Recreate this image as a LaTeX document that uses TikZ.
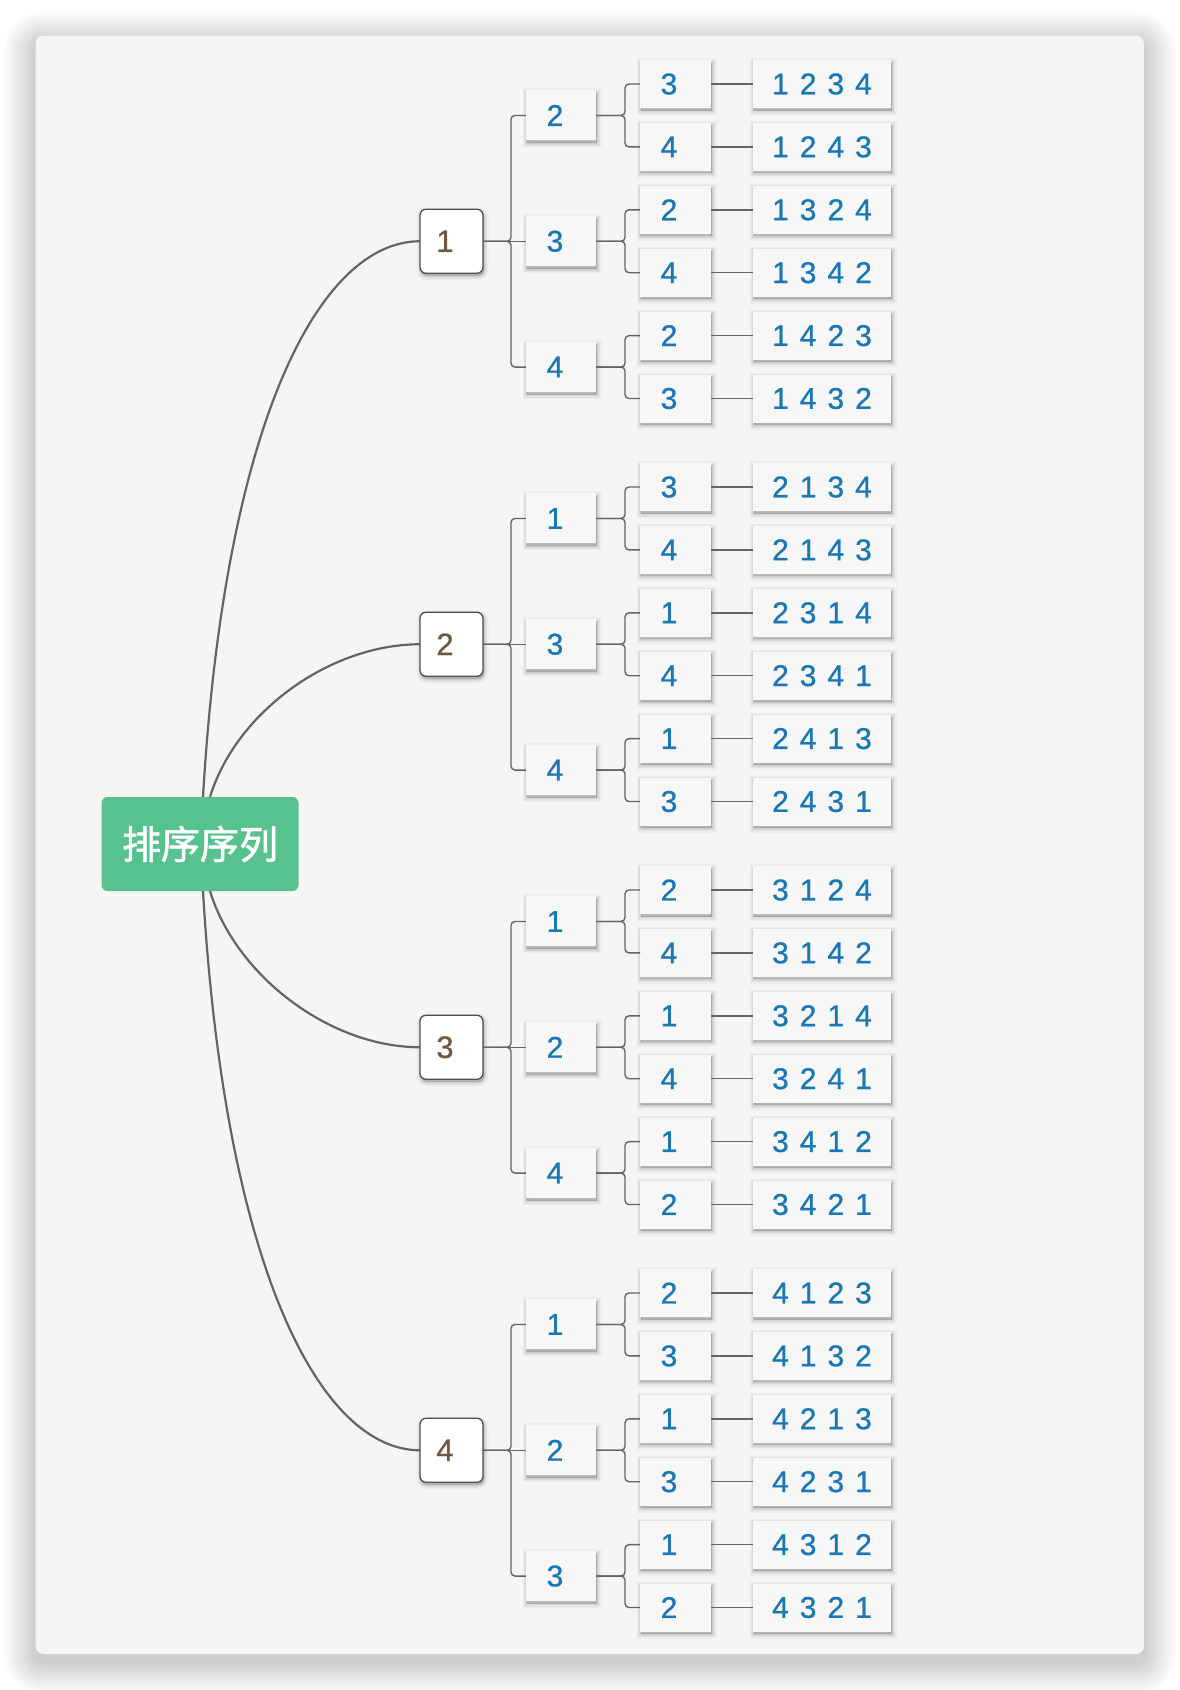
\documentclass[tikz,border=0pt]{standalone}
\usepackage{fontspec}
\setmainfont{Liberation Sans}
\newfontfamily\digitfont[FakeBold=0.8]{Liberation Sans}
\newfontfamily\cjkfont[FakeBold=1.5]{Noto Sans CJK SC}
\usetikzlibrary{shadows}
\definecolor{panelbg}{HTML}{F5F5F5}
\definecolor{boxbg}{HTML}{F7F7F7}
\definecolor{digitblue}{HTML}{1A77B5}
\definecolor{digitbrown}{HTML}{6E5840}
\definecolor{rootgreen}{HTML}{57C28D}
\definecolor{linegray}{HTML}{646464}
\definecolor{bordergray}{HTML}{4F4F4F}
\begin{document}
\begin{tikzpicture}[x=1pt,y=-1pt,
  softshadow/.style={
    general shadow={draw=black, fill=black, draw opacity=0.05, fill opacity=0.05, line width=1.5pt, shadow xshift=1pt, shadow yshift=-2.5pt},
    general shadow={draw=black, fill=black, draw opacity=0.05, fill opacity=0.05, line width=3.5pt, shadow xshift=1pt, shadow yshift=-2.5pt},
    general shadow={draw=black, fill=black, draw opacity=0.04, fill opacity=0.04, line width=6pt, shadow xshift=1pt, shadow yshift=-2.5pt},
    general shadow={draw=black, fill=black, draw opacity=0.03, fill opacity=0.03, line width=9pt, shadow xshift=1pt, shadow yshift=-2.5pt}},
  box/.style={softshadow, fill=boxbg, minimum height=48pt, inner sep=0pt, outer sep=0pt,
    text=digitblue, font=\digitfont\fontsize{30}{30}\selectfont},
  lvtwo/.style={box, minimum width=70pt, minimum height=50pt},
  lvthree/.style={box, minimum width=71pt},
  leaf/.style={box, minimum width=138pt},
  lvone/.style={softshadow, fill=white, draw=bordergray, line width=1.3pt, rounded corners=6pt,
    minimum width=63pt, minimum height=64pt, inner sep=0pt, outer sep=0pt,
    text=digitbrown, font=\digitfont\fontsize{31}{31}\selectfont},
  rootbox/.style={fill=rootgreen, rounded corners=6pt, minimum width=197pt,
    minimum height=94pt, inner sep=0pt, outer sep=0pt, text=white,
    font=\cjkfont\fontsize{39}{39}\selectfont},
  link/.style={draw=linegray, line width=1.4pt},
  curveline/.style={draw=linegray, line width=2.2pt}
]
\useasboundingbox (0,0) rectangle (1180,1690);
\fill[white] (0,0) rectangle (1180,1690);
\foreach \d in {2,4,...,32}{
  \pgfmathsetmacro\rc{8+\d}
  \fill[black, fill opacity=0.0118, rounded corners=\rc pt]
    (35.6-\d,35.6-\d+8) rectangle (1144+\d,1654+\d+8);
}
\fill[panelbg, rounded corners=8pt] (35.6,35.6) rectangle (1144,1654);

\node[rootbox] (root) at (200,844) {排序序列};

\foreach \g in {1,2,3,4}{
  \pgfmathsetmacro\gy{84+403*(\g-1)}
  \node[lvone] (a\g) at (451.5,\gy+157.25) {\g\kern13pt};
  \foreach \x in {1,2,3,4}{
    \ifnum\x=\g\else
      \pgfmathtruncatemacro\idxB{\x<\g ? \x-1 : \x-2}
      \node[lvtwo] (b\g\x) at (561,\gy+125.8*\idxB+31.45) {\x\kern12pt};
      \ifnum\idxB=1
        \draw[link] (a\g.east) -- (b\g\x.west);
      \else
        \draw[link, rounded corners=4pt] (a\g.east) -- ++(28,0) |- (b\g\x.west);
      \fi
      \foreach \y in {1,2,3,4}{
        \ifnum\y=\g\else\ifnum\y=\x\else
          \pgfmathtruncatemacro\idxC{\y-1-(\g<\y)-(\x<\y)}
          \pgfmathtruncatemacro\dz{10-\g-\x-\y}
          \node[lvthree] (c\g\x\y) at (675.5,\gy+125.8*\idxB+62.9*\idxC) {\y\kern13pt};
          \node[leaf] (d\g\x\y) at (822,\gy+125.8*\idxB+62.9*\idxC)
            {\g\kern11pt\x\kern11pt\y\kern11pt\dz};
          \draw[link, rounded corners=4pt] (b\g\x.east) -- ++(29,0) |- (c\g\x\y.west);
          \draw[link] (c\g\x\y.east) -- (d\g\x\y.west);
        \fi\fi
      }
    \fi
  }
}

\draw[curveline] ([xshift=3pt]root.north) .. controls +(22,-377) and +(-100,0) .. (a1.west);
\draw[curveline] ([xshift=10pt]root.north) .. controls +(26,-85) and +(-90,0) .. (a2.west);
\draw[curveline] ([xshift=10pt]root.south) .. controls +(26,85) and +(-90,0) .. (a3.west);
\draw[curveline] ([xshift=3pt]root.south) .. controls +(22,377) and +(-100,0) .. (a4.west);
\end{tikzpicture}
\end{document}
